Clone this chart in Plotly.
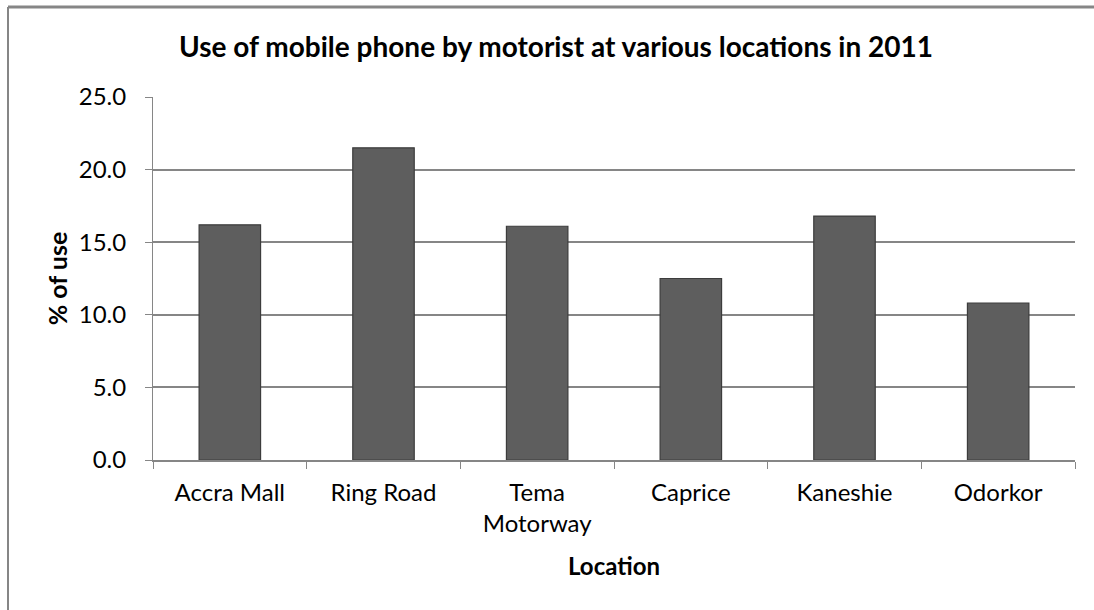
import plotly.graph_objects as go

locations = ["Accra Mall", "Ring Road", "Tema<br>Motorway", "Caprice", "Kaneshie", "Odorkor"]
use_pct = [16.2, 21.5, 16.1, 12.5, 16.8, 10.8]
y_ticks = [0, 5, 10, 15, 20, 25]
y_tick_text = ["0.0", "5.0", "10.0", "15.0", "20.0", "25.0"]

W, H = 1094, 610
L, R, T, B = 153, 19, 97, 150
pw = W - L - R
ph = H - T - B

FONT = "Lato"

fig = go.Figure()
fig.add_trace(go.Bar(
    x=locations, y=use_pct,
    marker=dict(color="#5e5e5e", line=dict(color="#3c3c3c", width=1.2)),
    hoverinfo="x+y",
))

def px_to_paper_x(px):
    return (px - L) / pw

def px_to_paper_y(py):
    return (H - B - py) / ph

fig.update_layout(
    width=W, height=H,
    margin=dict(l=L, r=R, t=T, b=B),
    paper_bgcolor="white", plot_bgcolor="white",
    bargap=0.6,
    showlegend=False,
    font=dict(family=FONT, color="black"),
    title=dict(
        text="<b>Use of mobile phone by motorist at various locations in 2011</b>",
        x=556 / W, xref="container", xanchor="center",
        y=1 - 47 / H, yanchor="middle", yref="container",
        font=dict(family=FONT, size=28, color="black"),
    ),
    xaxis=dict(
        type="category",
        tickson="boundaries",
        ticks="outside", ticklen=7, tickcolor="#868686", tickwidth=1,
        showline=True, linecolor="#868686", linewidth=2,
        showgrid=False,
        ticklabelstandoff=10,
        tickfont=dict(family=FONT, size=24, color="black", lineposition="none"),
        title=dict(text="<b>Location</b>", font=dict(family=FONT, size=24, color="black"), standoff=22),
    ),
    yaxis=dict(
        range=[0, 25],
        tickvals=y_ticks, ticktext=y_tick_text,
        ticks="outside", ticklen=7, tickcolor="#868686", tickwidth=1,
        showline=True, linecolor="#868686", linewidth=1,
        showgrid=True, gridcolor="#868686", gridwidth=1.5,
        zeroline=False,
        ticklabelstandoff=14,
        tickfont=dict(family=FONT, size=24, color="black"),
        title=dict(text="<b>% of use</b>", font=dict(family=FONT, size=25, color="black"), standoff=4),
    ),
    shapes=[
        dict(type="line", xref="paper", yref="paper",
             x0=px_to_paper_x(8), x1=px_to_paper_x(1100),
             y0=px_to_paper_y(7), y1=px_to_paper_y(7),
             line=dict(color="#868686", width=3)),
        dict(type="line", xref="paper", yref="paper",
             x0=px_to_paper_x(8), x1=px_to_paper_x(8),
             y0=px_to_paper_y(7), y1=px_to_paper_y(620),
             line=dict(color="#868686", width=2)),
    ],
)

fig.write_html("out.html", config={"displayModeBar": False},
               post_script="document.body.style.margin='0';document.body.style.overflow='hidden';")
